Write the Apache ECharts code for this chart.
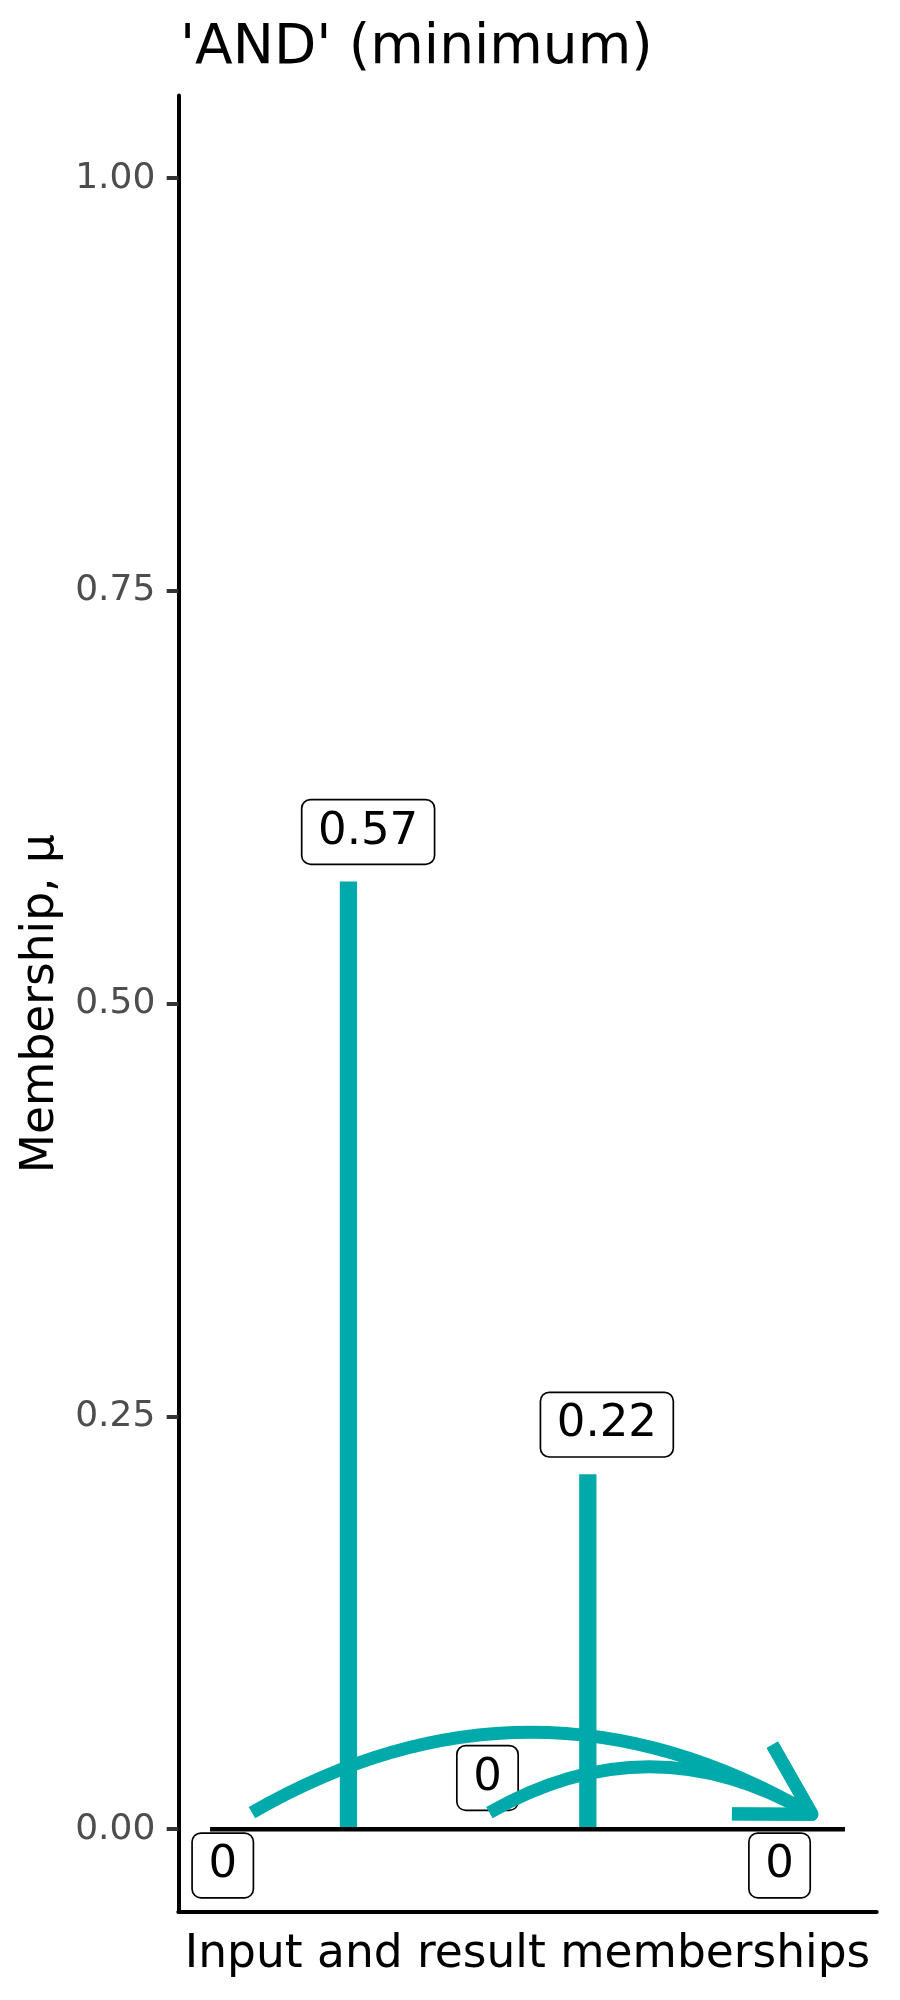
<!DOCTYPE html>
<html>
<head>
<meta charset="utf-8">
<script src="https://cdn.jsdelivr.net/npm/echarts@6/dist/echarts.min.js"></script>
<style>
  html, body { margin: 0; padding: 0; background: #fff; }
  #chart { width: 900px; height: 2000px; }
</style>
</head>
<body>
<div id="chart"></div>
<script>
// ---- data ----
const barX = [0.218, 0.595];
const barValues = [0.574, 0.215];
const labelX = [0.020, 0.249, 0.437, 0.625, 0.897];
const labelY = [-0.022, 0.604, 0.031, 0.245, -0.022];
const labelText = ['0', '0.57', '0', '0.22', '0'];
const baselineX = [0, 1];
const baselineY = [0, 0];
const arrowFromX = [0.066, 0.440];
const arrowFromY = [0.010, 0.010];
const arrowToX = [0.948, 0.948];
const arrowToY = [0.009, 0.009];
const yTicks = [0, 0.25, 0.5, 0.75, 1];

const TEAL = '#00AAAA';
const FONT = 'DejaVu Sans';

const chart = echarts.init(document.getElementById('chart'), null, { renderer: 'canvas' });

const barData = barX.map((x, i) => [x, barValues[i]]);
const labelData = labelX.map((x, i) => [x, labelY[i], i]);
const baselineData = baselineX.map((x, i) => [x, baselineY[i]]);
const arrowData = arrowFromX.map((x, i) => [x, arrowFromY[i], arrowToX[i], arrowToY[i]]);

const CURVENESS = 0.29;
const HEAD_LEN = 80;
const HEAD_ANGLE = 30 * Math.PI / 180;

const option = {
  animation: false,
  backgroundColor: '#ffffff',
  title: {
    text: "'AND' (minimum)",
    left: 175,
    top: 16,
    textStyle: { fontFamily: FONT, fontSize: 55, fontWeight: 'normal', color: '#000' }
  },
  grid: { left: 178.3, right: 23.3, top: 95.6, bottom: 88.3, containLabel: false },
  xAxis: {
    type: 'value',
    min: -0.05,
    max: 1.05,
    name: 'Input and result memberships',
    nameLocation: 'middle',
    nameGap: 20,
    nameTextStyle: { fontFamily: FONT, fontSize: 45.5, color: '#000' },
    axisLine: { show: true, onZero: false, lineStyle: { color: '#000', width: 4 } },
    axisTick: { show: false },
    axisLabel: { show: false },
    splitLine: { show: false }
  },
  yAxis: {
    type: 'value',
    min: -0.05,
    max: 1.05,
    name: 'Membership, \u03bc',
    nameLocation: 'middle',
    nameGap: 112,
    nameTextStyle: { fontFamily: FONT, fontSize: 45.5, color: '#000' },
    axisLine: { show: true, onZero: false, lineStyle: { color: '#000', width: 4 } },
    axisTick: { show: true, customValues: yTicks, length: 11.6, lineStyle: { color: '#333333', width: 4 } },
    axisLabel: {
      show: true,
      customValues: yTicks,
      margin: 23,
      fontFamily: FONT,
      fontSize: 36,
      color: '#4D4D4D',
      formatter: v => Number(v).toFixed(2)
    },
    splitLine: { show: false }
  },
  series: [
    {
      type: 'custom',
      name: 'bars',
      z: 2,
      silent: true,
      data: barData,
      renderItem: function (params, api) {
        const p0 = api.coord([api.value(0), 0]);
        const p1 = api.coord([api.value(0), api.value(1)]);
        return {
          type: 'line',
          shape: { x1: p0[0], y1: p0[1], x2: p1[0], y2: p1[1] },
          style: { stroke: TEAL, lineWidth: 17.3, lineCap: 'butt' }
        };
      }
    },
    {
      type: 'line',
      name: 'baseline',
      z: 3,
      silent: true,
      data: baselineData,
      showSymbol: false,
      symbol: 'none',
      lineStyle: { color: '#000', width: 4.5, cap: 'butt' }
    },
    {
      type: 'custom',
      name: 'labels',
      z: 4,
      silent: true,
      data: labelData,
      renderItem: function (params, api) {
        const p = api.coord([api.value(0), api.value(1)]);
        return {
          type: 'text',
          x: p[0],
          y: p[1],
          style: {
            text: labelText[api.value(2)],
            fontFamily: FONT,
            fontSize: 45,
            lineHeight: 45,
            fill: '#000000',
            align: 'center',
            verticalAlign: 'middle',
            backgroundColor: '#ffffff',
            borderColor: '#000000',
            borderWidth: 1.7,
            borderRadius: 8,
            padding: [11, 15.5, 7, 15.5]
          }
        };
      }
    },
    {
      type: 'custom',
      name: 'arrows',
      z: 5,
      silent: true,
      data: arrowData,
      renderItem: function (params, api) {
        const a = api.coord([api.value(0), api.value(1)]);
        const b = api.coord([api.value(2), api.value(3)]);
        const cpx = (a[0] + b[0]) / 2 - (a[1] - b[1]) * CURVENESS;
        const cpy = (a[1] + b[1]) / 2 - (b[0] - a[0]) * CURVENESS;
        const back = Math.atan2(cpy - b[1], cpx - b[0]);
        const w1 = [b[0] + HEAD_LEN * Math.cos(back + HEAD_ANGLE), b[1] + HEAD_LEN * Math.sin(back + HEAD_ANGLE)];
        const w2 = [b[0] + HEAD_LEN * Math.cos(back - HEAD_ANGLE), b[1] + HEAD_LEN * Math.sin(back - HEAD_ANGLE)];
        return {
          type: 'group',
          children: [
            {
              type: 'bezierCurve',
              shape: { x1: a[0], y1: a[1], x2: b[0], y2: b[1], cpx1: cpx, cpy1: cpy },
              style: { stroke: TEAL, fill: null, lineWidth: 13, lineCap: 'butt' }
            },
            {
              type: 'polyline',
              shape: { points: [w1, b, w2] },
              style: { stroke: TEAL, fill: null, lineWidth: 13, lineCap: 'butt', lineJoin: 'round' }
            }
          ]
        };
      }
    }
  ]
};

chart.setOption(option);
</script>
</body>
</html>
